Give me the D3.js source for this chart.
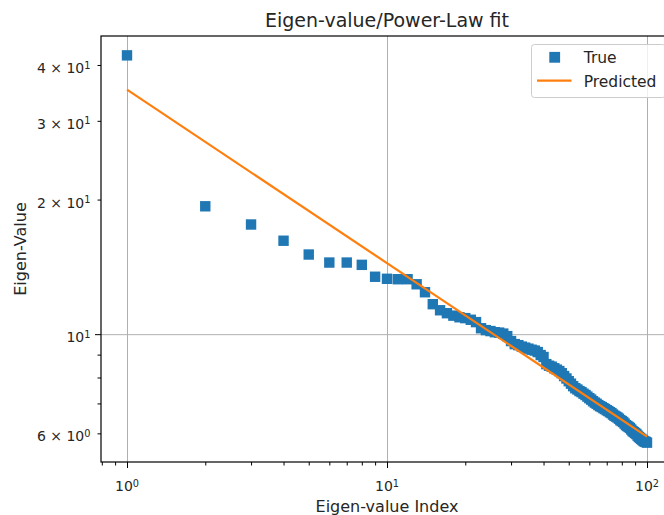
<!DOCTYPE html>
<html>
<head>
<meta charset="utf-8">
<script src="https://cdn.jsdelivr.net/npm/d3@7"></script>
<style>
  body { margin: 0; background: #fff; }
  svg { display: block; font-family: "DejaVu Sans", sans-serif; }
</style>
</head>
<body>
<svg id="chart"></svg>
<script>
const eigIndex = [
  1, 2, 3, 4, 5, 6, 7, 8, 9, 10, 11, 12, 13, 14, 15, 16, 17, 18, 19, 20,
  21, 22, 23, 24, 25, 26, 27, 28, 29, 30, 31, 32, 33, 34, 35, 36, 37, 38, 39, 40,
  41, 42, 43, 44, 45, 46, 47, 48, 49, 50, 51, 52, 53, 54, 55, 56, 57, 58, 59, 60,
  61, 62, 63, 64, 65, 66, 67, 68, 69, 70, 71, 72, 73, 74, 75, 76, 77, 78, 79, 80,
  81, 82, 83, 84, 85, 86, 87, 88, 89, 90, 91, 92, 93, 94, 95, 96, 97, 98, 99, 100
]
const eigValue = [
  42.03, 19.32, 17.59, 16.18, 15.07, 14.46, 14.46, 14.29, 13.44, 13.30,
  13.27, 13.27, 12.93, 12.41, 11.67, 11.31, 11.14, 11.00, 10.91, 10.86,
  10.77, 10.64, 10.31, 10.21, 10.16, 10.10, 10.08, 10.03, 9.90, 9.65,
  9.50, 9.45, 9.38, 9.33, 9.28, 9.23, 9.19, 9.12, 8.98, 8.89,
  8.57, 8.50, 8.46, 8.39, 8.33, 8.27, 8.18, 8.06, 7.96, 7.85,
  7.75, 7.65, 7.57, 7.52, 7.46, 7.42, 7.36, 7.31, 7.25, 7.19,
  7.14, 7.08, 7.03, 6.99, 6.94, 6.90, 6.87, 6.83, 6.80, 6.76,
  6.73, 6.69, 6.66, 6.61, 6.57, 6.54, 6.51, 6.47, 6.42, 6.39,
  6.36, 6.31, 6.26, 6.23, 6.20, 6.17, 6.12, 6.07, 6.04, 6.01,
  5.98, 5.93, 5.89, 5.86, 5.83, 5.80, 5.77, 5.75, 5.74, 5.72
]
const predIndex = [1, 100]
const predValue = [35.23, 5.90]

const xTicks = [1, 10, 100]
const xTickExp = ["0", "1", "2"]
const xMinor = [0.8, 0.9, 2, 3, 4, 5, 6, 7, 8, 9, 20, 30, 40, 50, 60, 70, 80, 90]
const yTicks = [6, 10, 20, 30, 40]
const yTickMant = ["6", "", "2", "3", "4"]
const yTickExp = ["0", "1", "1", "1", "1"]
const yMajor = [10]
const yMinor = [6, 7, 8, 9, 20, 30, 40]

const w = 664
const h = 515
const padL = 101
const padT = 36
const padR = 673
const padB = 462

const svg = d3.select("#chart").attr("width", w).attr("height", h)

// matplotlib style 5% margin on log axes
const logPad = (ext) => {
  const a = Math.log10(ext[0])
  const b = Math.log10(ext[1])
  const m = (b - a) * 0.05
  return [Math.pow(10, a - m), Math.pow(10, b + m)]
}

const xScale = d3.scaleLog().domain(logPad(d3.extent(eigIndex))).range([padL, padR])
const yScale = d3.scaleLog().domain(logPad(d3.extent(eigValue))).range([padB, padT])

// grid
svg.append("g")
  .attr("class", "grid")
  .attr("transform", `translate(0,${padB})`)
  .call(d3.axisBottom(xScale).tickValues(xTicks).tickSize(-(padB - padT)).tickFormat(""))
svg.append("g")
  .attr("class", "grid")
  .attr("transform", `translate(${padL},0)`)
  .call(d3.axisLeft(yScale).tickValues(yMajor).tickSize(-(padR - padL)).tickFormat(""))
svg.selectAll(".grid path").remove()
svg.selectAll(".grid line").attr("stroke", "#b0b0b0").attr("stroke-width", 1)

// ticks
const tickAxis = (axis, tr) => {
  const g = svg.append("g").attr("transform", tr).call(axis)
  g.select("path").remove()
  g.selectAll("line").attr("stroke", "#000").attr("stroke-width", 1)
  return g
}
tickAxis(d3.axisBottom(xScale).tickValues(xTicks).tickSize(6).tickFormat(""), `translate(0,${padB})`)
tickAxis(d3.axisBottom(xScale).tickValues(xMinor).tickSize(3.5).tickFormat(""), `translate(0,${padB})`)
tickAxis(d3.axisLeft(yScale).tickValues(yMajor).tickSize(6).tickFormat(""), `translate(${padL},0)`)
tickAxis(d3.axisLeft(yScale).tickValues(yMinor).tickSize(3.5).tickFormat(""), `translate(${padL},0)`)

const sciLabel = (t, mant, exp) => {
  if (mant) t.append("tspan").text(mant + " \u00d7 ")
  t.append("tspan").text("10")
  t.append("tspan").attr("dy", "-0.45em").attr("font-size", "70%").text(exp)
}

xTicks.forEach((v, i) => {
  const t = svg.append("text")
    .attr("x", xScale(v))
    .attr("y", padB + 29)
    .attr("text-anchor", "middle")
    .attr("font-size", 14)
    .attr("fill", "#262626")
  sciLabel(t, "", xTickExp[i])
})
yTicks.forEach((v, i) => {
  const t = svg.append("text")
    .attr("x", padL - 10.5)
    .attr("y", yScale(v) + 8)
    .attr("text-anchor", "end")
    .attr("font-size", 14)
    .attr("fill", "#262626")
  sciLabel(t, yTickMant[i], yTickExp[i])
})

// data
const line = d3.line()
  .x((d, i) => xScale(predIndex[i]))
  .y((d) => yScale(d))

svg.append("g")
  .selectAll("rect")
  .data(eigValue)
  .enter()
  .append("rect")
  .attr("x", (d, i) => xScale(eigIndex[i]) - 5.2)
  .attr("y", (d) => yScale(d) - 5.2)
  .attr("width", 10.4)
  .attr("height", 10.4)
  .attr("fill", "#1f77b4")

svg.append("path")
  .datum(predValue)
  .attr("d", line)
  .attr("fill", "none")
  .attr("stroke", "#ff7f0e")
  .attr("stroke-width", 2.2)

// spines
svg.append("rect")
  .attr("x", padL)
  .attr("y", padT)
  .attr("width", padR - padL)
  .attr("height", padB - padT)
  .attr("fill", "none")
  .attr("stroke", "#000")
  .attr("stroke-width", 1.2)

// title and labels
svg.append("text")
  .attr("x", (padL + padR) / 2)
  .attr("y", 26.5)
  .attr("text-anchor", "middle")
  .attr("font-size", 19)
  .attr("fill", "#262626")
  .text("Eigen-value/Power-Law fit")
svg.append("text")
  .attr("x", (padL + padR) / 2)
  .attr("y", 511.5)
  .attr("text-anchor", "middle")
  .attr("font-size", 16)
  .attr("fill", "#262626")
  .text("Eigen-value Index")
svg.append("text")
  .attr("transform", `translate(25.5,${(padT + padB) / 2}) rotate(-90)`)
  .attr("text-anchor", "middle")
  .attr("font-size", 16)
  .attr("fill", "#262626")
  .text("Eigen-Value")

// legend
const legend = svg.append("g").attr("id", "legend")
legend.append("rect")
  .attr("x", 531.5)
  .attr("y", 44.5)
  .attr("width", 134)
  .attr("height", 53)
  .attr("rx", 3)
  .attr("fill", "#fff")
  .attr("fill-opacity", 0.8)
  .attr("stroke", "#cccccc")
  .attr("stroke-width", 1)
legend.append("rect")
  .attr("x", 554.7 - 5.4)
  .attr("y", 57.3 - 5.4)
  .attr("width", 10.8)
  .attr("height", 10.8)
  .attr("fill", "#1f77b4")
legend.append("line")
  .attr("x1", 537)
  .attr("x2", 571.5)
  .attr("y1", 80.7)
  .attr("y2", 80.7)
  .attr("stroke", "#ff7f0e")
  .attr("stroke-width", 2.2)
legend.append("text")
  .attr("x", 583.7)
  .attr("y", 63)
  .attr("font-size", 15.5)
  .attr("fill", "#262626")
  .text("True")
legend.append("text")
  .attr("x", 583.7)
  .attr("y", 86.5)
  .attr("font-size", 15.5)
  .attr("fill", "#262626")
  .text("Predicted")
</script>
</body>
</html>
